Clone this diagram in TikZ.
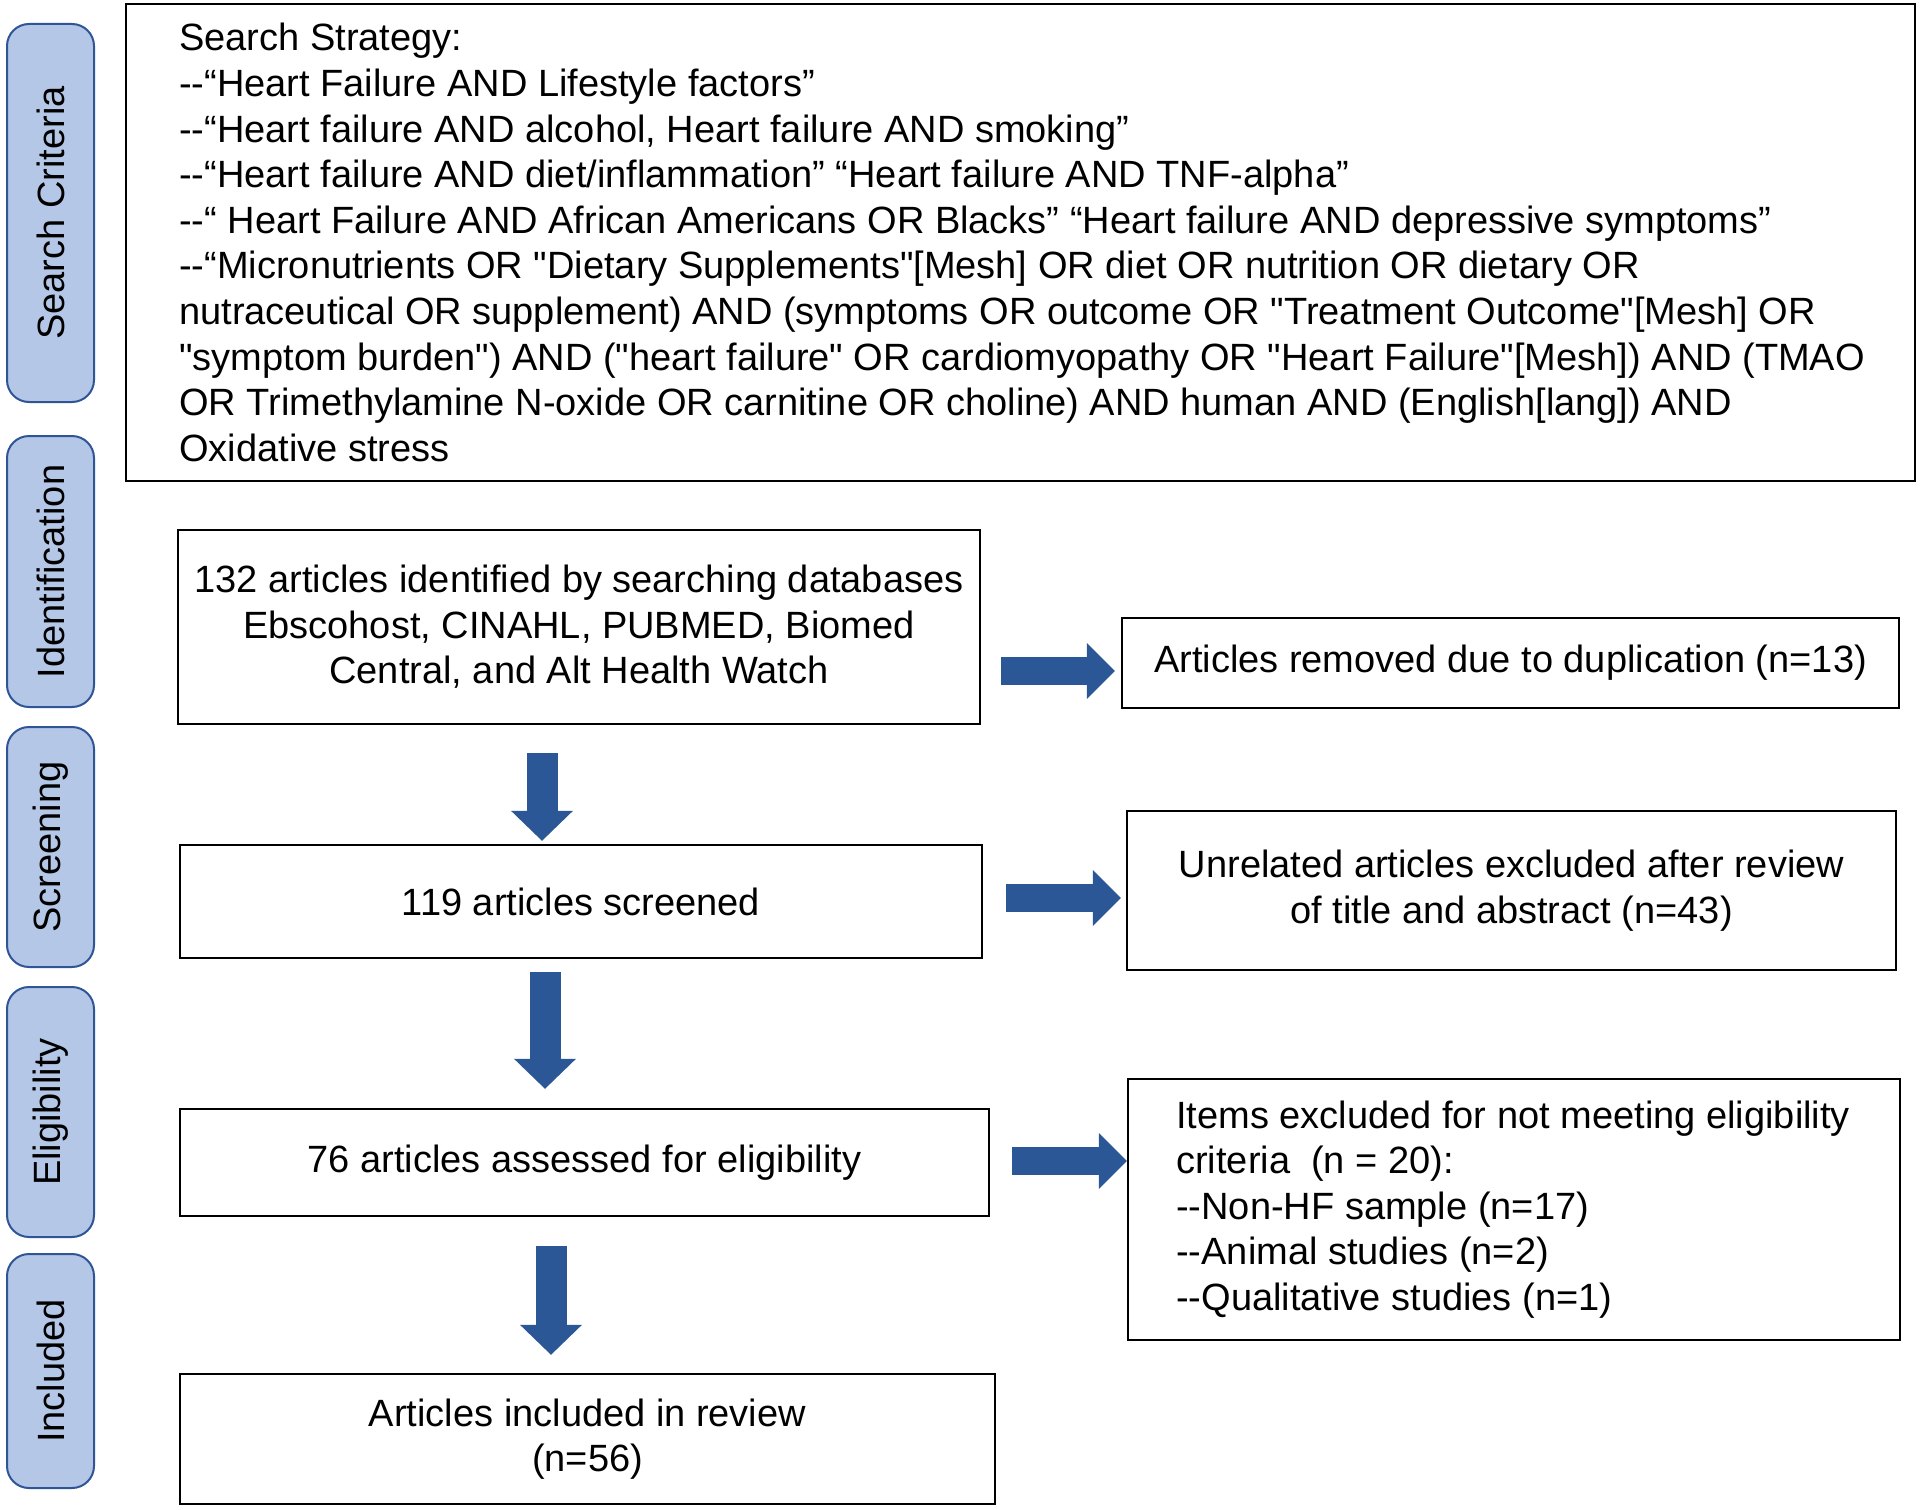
\documentclass[tikz,border=0pt]{standalone}
\usepackage{fontspec}
\setmainfont{Liberation Sans}
\usetikzlibrary{arrows.meta,calc}
\definecolor{tabfill}{RGB}{180,199,231}
\definecolor{tabdraw}{RGB}{47,85,151}
\definecolor{arrowblue}{RGB}{43,87,151}
\newcommand\dd{-{}-}
\newcommand\sq{\textquotedbl}
\begin{document}
\begin{tikzpicture}[x=0.5pt,y=-0.5pt,
  font=\fontsize{19pt}{22.8pt}\selectfont,
  box/.style={draw=black, line width=1.2pt, inner sep=0pt, align=center},
  tab/.style={draw=tabdraw, fill=tabfill, line width=1pt, rounded corners=11pt,
    rotate=90, minimum height=43.5pt, inner sep=0pt},
  rarrow/.style={arrowblue, line width=14pt, -{Triangle[length=14pt,width=28pt,line width=0pt]}},
  darrow/.style={arrowblue, line width=15.5pt, -{Triangle[length=15pt,width=31pt,line width=0pt]}}
]
\useasboundingbox (0,0) rectangle (1920,1509);

% stage tabs
\node[tab, minimum width=189pt]   (tsearch) at (50.5,213)  {Search Criteria};
\node[tab, minimum width=135.5pt] (tident)  at (50.5,571.5) {Identification};
\node[tab, minimum width=120pt]   (tscreen) at (50.5,847)  {Screening};
\node[tab, minimum width=125pt]   (telig)   at (50.5,1112) {Eligibility};
\node[tab, minimum width=117pt]   (tincl)   at (50.5,1371) {Included};

% boxes
\node[box, minimum width=894.5pt, minimum height=238.5pt] (search) at (1020.5,242.5) {};
\node[anchor=west, align=left, inner sep=0pt] (searchtext) at ($(search.west)+(54,0)$)
{Search Strategy:\\
\dd“Heart Failure AND Lifestyle factors”\\
\dd“Heart failure AND alcohol, Heart failure AND smoking”\\
\dd“Heart failure AND diet/inflammation” “Heart failure AND TNF-alpha”\\
\dd“ Heart Failure AND African Americans OR Blacks” “Heart failure AND depressive symptoms”\\
\dd“Micronutrients OR \sq Dietary Supplements\sq[Mesh] OR diet OR nutrition OR dietary OR\\
nutraceutical OR supplement) AND (symptoms OR outcome OR \sq Treatment Outcome\sq[Mesh] OR\\
\sq symptom burden\sq) AND (\sq heart failure\sq{} OR cardiomyopathy OR \sq Heart Failure\sq[Mesh]) AND (TMAO\\
OR Trimethylamine N-oxide OR carnitine OR choline) AND human AND (English[lang]) AND\\
Oxidative stress};

\node[box, minimum width=401pt, minimum height=97pt] (ident) at (579,627)
{132 articles identified by searching databases\\ Ebscohost, CINAHL, PUBMED, Biomed\\ Central, and Alt Health Watch};
\node[box, minimum width=388.5pt, minimum height=45pt] (dup) at (1510.5,663)
{Articles removed due to duplication (n=13)};
\node[box, minimum width=401pt, minimum height=56.5pt] (screen) at (581,901.5)
{119 articles screened};
\node[box, minimum width=384.5pt, minimum height=79.5pt] (unrel) at (1511.5,890.5)
{Unrelated articles excluded after review\\ of title and abstract (n=43)};
\node[box, minimum width=404.5pt, minimum height=53.5pt] (elig) at (584.5,1162.5)
{76 articles assessed for eligibility};
\node[box, minimum width=386pt, minimum height=130.5pt] (items) at (1514,1209.5) {};
\node[anchor=west, align=left, inner sep=0pt] (itemstext) at ($(items.west)+(49,0)$)
{Items excluded for not meeting eligibility\\
criteria\ \ (n = 20):\\
\dd Non-HF sample (n=17)\\
\dd Animal studies (n=2)\\
\dd Qualitative studies (n=1)};
\node[box, minimum width=407.5pt, minimum height=65pt] (incl) at (587.5,1439)
{Articles included in review\\ (n=56)};

% right arrows
\draw[rarrow] ($(ident.east)+(20,44)$) -- ($(dup.west)+(-6,8)$);
\draw[rarrow] ($(screen.east)+(23,-3.5)$) -- ($(unrel.west)+(-5,7.5)$);
\draw[rarrow] ($(elig.east)+(22,-1.5)$) -- ($(items.west)+(0,-48.5)$);

% down arrows
\draw[darrow] ($(ident.south)+(-37,28)$) -- ($(screen.north)+(-39,-3)$);
\draw[darrow] ($(screen.south)+(-36,13)$) -- ($(elig.north)+(-39.5,-19)$);
\draw[darrow] ($(elig.south)+(-33.5,29)$) -- ($(incl.north)+(-36.5,-18)$);
\end{tikzpicture}
\end{document}
